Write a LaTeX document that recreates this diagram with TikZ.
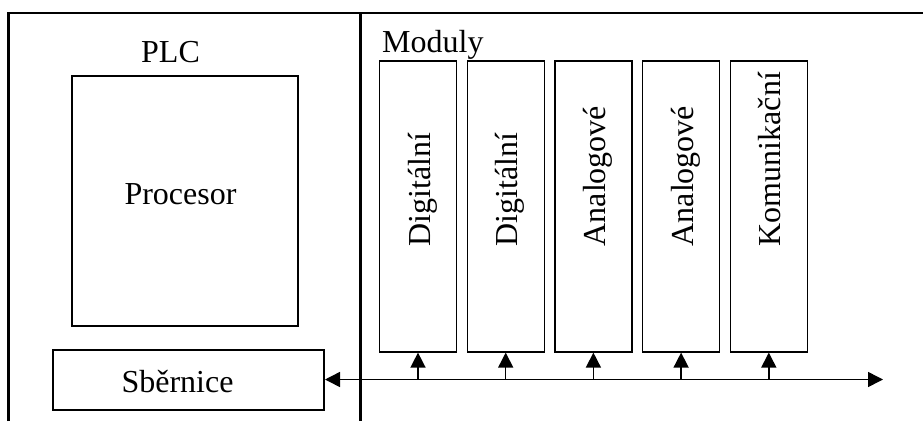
\documentclass[tikz,border=0pt]{standalone}
\usepackage{fontspec}
\setmainfont{Liberation Serif}
\usetikzlibrary{arrows.meta,positioning,calc}

\begin{document}
\begin{tikzpicture}[x=1pt,y=-1pt,font=\fontsize{32}{38}\selectfont,
  box node/.style={draw,line width=2pt,inner sep=0pt},
  module node/.style={draw,line width=1.2pt,inner sep=0pt,minimum width=77pt,minimum height=291pt},
  name node/.style={rotate=90,anchor=base west,inner sep=0pt},
  text node/.style={anchor=base,inner sep=0pt},
  tip/.style={-{Triangle[length=15pt,width=15pt]},line width=1.5pt}]

  \useasboundingbox (0,0) rectangle (923,421);

  % frame and divider
  \draw[line width=2.5pt] (8.7,421) -- (8.7,12.8) -- (923,12.8);
  \draw[line width=2.3pt] (360.5,12.8) -- (360.5,421);

  % PLC side
  \node[text node] (plc) at (170.5,62) {PLC};
  \node[box node,minimum width=226pt,minimum height=250pt] (cpu) at (185,201) {};
  \node[text node] (cpu text) at (180.5,204) {Procesor};
  \node[box node,minimum width=271pt,minimum height=60pt] (sb) at (188.5,379.5) {};
  \node[text node] (sb text) at (177.5,392) {Sběrnice};

  % modules
  \node[text node,anchor=base west] (mod) at (382,52) {Moduly};
  \node[module node] (m1) at (418,206.5) {};
  \node[module node] (m2) [right=9.5pt of m1] {};
  \node[module node] (m3) [right=9.5pt of m2] {};
  \node[module node] (m4) [right=9.5pt of m3] {};
  \node[module node] (m5) [right=9.5pt of m4] {};

  \node[name node] (n1) at ($(m1.center)+(12,40)$) {Digitální};
  \node[name node] (n2) at ($(m2.center)+(12,40)$) {Digitální};
  \node[name node] (n3) at ($(m3.center)+(12,40)$) {Analogové};
  \node[name node] (n4) at ($(m4.center)+(12,40)$) {Analogové};
  \node[name node] (n5) at ($(m5.center)+(12,40)$) {Komunikační};

  % bus
  \coordinate (busend) at (883,379.5);
  \draw[{Triangle[length=15pt,width=15pt]}-{Triangle[length=15pt,width=15pt]},line width=1.5pt] (sb.east) -- (busend);
  \coordinate (b1) at (m1 |- busend);
  \coordinate (b2) at (m2 |- busend);
  \coordinate (b3) at (m3 |- busend);
  \coordinate (b4) at (m4 |- busend);
  \coordinate (b5) at (m5 |- busend);

  \path[tip]
    (b1) edge (m1)
    (b2) edge (m2)
    (b3) edge (m3)
    (b4) edge (m4)
    (b5) edge (m5);
\end{tikzpicture}
\end{document}
